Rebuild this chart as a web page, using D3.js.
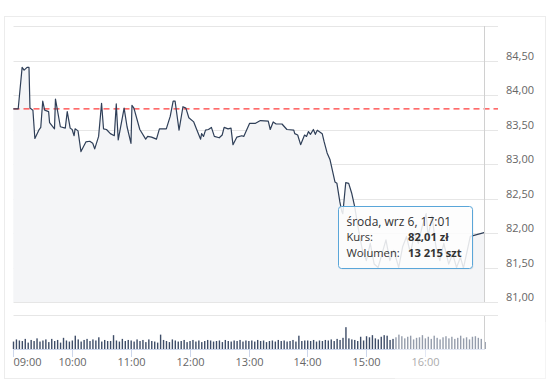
<!DOCTYPE html>
<html>
<head>
<meta charset="utf-8">
<script src="https://cdn.jsdelivr.net/npm/d3@7"></script>
<style>
  html, body { margin: 0; padding: 0; background: #fff; }
  svg { display: block; font-family: "Open Sans", sans-serif; }
</style>
</head>
<body>
<svg id="chart" width="550" height="384"></svg>
<script>
// price (kurs) - time of trade and price
const priceTimes = [
  "09:00","09:05","09:09","09:11","09:14","09:16","09:17","09:20","09:22","09:26",
  "09:28","09:30","09:32","09:36","09:37","09:42","09:43","09:48","09:53","09:55",
  "09:58","10:00","10:02","10:03","10:06","10:09","10:14","10:18","10:21","10:23",
  "10:27","10:30","10:32","10:35","10:39","10:43","10:45","10:47","10:53","10:56",
  "11:00","11:01","11:03","11:09","11:15","11:17","11:21","11:26","11:29","11:36",
  "11:40","11:43","11:45","11:49","11:53","11:56","11:59","12:04","12:07","12:11",
  "12:12","12:14","12:16","12:19","12:22","12:25","12:30","12:33","12:35","12:39",
  "12:42","12:44","12:48","12:53","12:55","13:01","13:07","13:12","13:20","13:22",
  "13:25","13:28","13:34","13:39","13:46","13:47","13:50","13:53","13:57","13:59",
  "14:01","14:03","14:06","14:08","14:10","14:15","14:17","14:20","14:23","14:28",
  "14:30","14:33","14:35","14:36","14:39","14:42","14:45","14:48","14:52","14:56",
  "15:00","15:04","15:08","15:12","15:16","15:20","15:24","15:28","15:33","15:37",
  "15:41","15:45","15:49","15:53","15:57","16:01","16:03","16:07","16:11","16:15",
  "16:19","16:24","16:28","16:32","16:36","16:39","16:46","17:01"
];
const priceValues = [
  83.80,83.80,84.40,84.36,84.40,84.40,83.81,83.78,83.37,83.49,
  83.53,83.91,83.78,83.76,83.60,83.51,83.94,83.54,83.52,83.76,
  83.52,83.50,83.41,83.51,83.48,83.18,83.32,83.33,83.30,83.22,
  83.40,83.88,83.51,83.50,83.44,83.41,83.87,83.35,83.81,83.54,
  83.30,83.85,83.81,83.50,83.36,83.40,83.39,83.36,83.51,83.51,
  83.69,83.91,83.91,83.49,83.83,83.81,83.67,83.61,83.50,83.36,
  83.44,83.40,83.49,83.50,83.53,83.40,83.38,83.42,83.53,83.51,
  83.52,83.28,83.39,83.41,83.40,83.59,83.59,83.63,83.62,83.50,
  83.61,83.58,83.58,83.50,83.49,83.44,83.42,83.28,83.42,83.40,
  83.47,83.43,83.50,83.43,83.49,83.44,83.32,83.16,83.06,82.74,
  82.72,82.45,82.31,82.28,82.73,82.72,82.58,82.39,82.05,81.75,
  81.60,81.85,81.55,81.50,81.70,81.90,81.60,81.75,81.50,81.80,
  81.95,81.70,82.00,81.85,82.10,82.28,81.95,82.25,81.80,81.60,
  81.85,81.55,81.70,81.50,81.65,81.49,81.95,82.01
];
const prevClose = 83.80;

// volume, thousands of shares, one bar every 3 minutes per hour
const vol09 = [14,18,16,15,19,12,17,15,20,14,16,18,13,19,15,17,12,21,16,14];
const vol10 = [16,25,18,14,17,19,15,18,16,22,14,17,15,15,26,16,14,19,15,17];
const vol11 = [16,14,18,15,17,13,18,15,14,12,27,17,15,13,18,16,14,15,17,13];
const vol12 = [15,17,14,16,13,15,17,16,14,15,16,13,17,15,14,16,15,17,14,16];
const vol13 = [15,16,14,17,15,16,13,15,16,14,17,15,16,14,15,17,14,25,15,16];
const vol14 = [16,15,17,14,16,15,17,16,18,15,19,17,21,41,20,18,17,15,23,16];
const vol15 = [24,22,26,20,18,23,26,25,17,19,22,27,24,20,23,25,18,21,22,26];
const vol16 = [20,23,19,25,21,18,22,24,20,23,19,21,25,20,22,18,23,24,21,19];
const volClose = 13.215;

const yTicks = [81, 81.5, 82, 82.5, 83, 83.5, 84, 84.5, 85];
const hourTicks = ["09:00","10:00","11:00","12:00","13:00","14:00","15:00","16:00"];
const tipDate = "środa, wrz 6, 17:01";
const tipRows = [["Kurs:", "82,01 zł"], ["Wolumen:", "13 215 szt"]];

const day = t => { const [h, m] = t.split(":").map(Number); return new Date(2017, 8, 6, h, m); };
const prices = priceTimes.map((t, i) => ({ date: day(t), value: priceValues[i] }));

const volumes = [];
[vol09, vol10, vol11, vol12, vol13, vol14, vol15, vol16].forEach((arr, h) => {
  arr.forEach((v, i) => volumes.push({ date: new Date(2017, 8, 6, 9 + h, i * 3), value: v * 1000 }));
});
volumes.push({ date: day("17:01"), value: volClose * 1000 });

const svg = d3.select("#chart");
const gridLeft = 13.5, gridRight = 498;

// outer panel
svg.append("rect")
  .attr("x", 4.5).attr("y", 16.5).attr("width", 541).attr("height", 362)
  .attr("fill", "#fff").attr("stroke", "#ececec");

const x = d3.scaleTime()
  .domain([day("09:00"), day("17:01")])
  .range([13.3, 485]);
const y = d3.scaleLinear().domain([81, 85]).range([302, 26]);
const yVol = d3.scaleLinear().domain([0, 62000]).range([349, 316]);

// price grid + labels
svg.append("g").selectAll("line")
  .data(yTicks).join("line")
  .attr("x1", gridLeft).attr("x2", gridRight)
  .attr("y1", d => Math.round(y(d)) + 0.5).attr("y2", d => Math.round(y(d)) + 0.5)
  .attr("stroke", "#e6e6e6");

svg.append("g").selectAll("text")
  .data(yTicks.filter(d => d < 85)).join("text")
  .attr("x", 506).attr("y", d => y(d) - 1)
  .attr("font-size", 11).attr("fill", "#666")
  .text(d => d3.format(".2f")(d).replace(".", ","));

// area + line
svg.append("path")
  .datum(prices)
  .attr("fill", "#f4f5f7")
  .attr("d", d3.area().x(d => x(d.date)).y0(y(81)).y1(d => y(d.value)));

svg.append("line")
  .attr("x1", gridLeft).attr("x2", gridRight)
  .attr("y1", y(prevClose)).attr("y2", y(prevClose))
  .attr("stroke", "#ff3b3b").attr("stroke-width", 1.2).attr("stroke-dasharray", "6,4");

svg.append("path")
  .datum(prices)
  .attr("fill", "none")
  .attr("stroke", "#2f3f58").attr("stroke-width", 1.2).attr("stroke-linejoin", "round")
  .attr("d", d3.line().x(d => x(d.date)).y(d => y(d.value)));

// volume pane
svg.append("line")
  .attr("x1", gridLeft).attr("x2", gridRight).attr("y1", 315.5).attr("y2", 315.5)
  .attr("stroke", "#e6e6e6");

svg.append("g").selectAll("rect")
  .data(volumes).join("rect")
  .attr("x", d => x(d.date) - 0.5)
  .attr("width", 1.4)
  .attr("y", d => yVol(d.value))
  .attr("height", d => yVol(0) - yVol(d.value))
  .attr("fill", "#3e4d68");

// x axis
svg.append("line")
  .attr("x1", gridLeft).attr("x2", 485).attr("y1", 349.5).attr("y2", 349.5)
  .attr("stroke", "#ccd6eb");

const xt = svg.append("g").selectAll("g")
  .data(hourTicks).join("g")
  .attr("transform", d => `translate(${Math.round(x(day(d))) + 0.5},0)`);
xt.append("line").attr("y1", 349).attr("y2", 357).attr("stroke", "#ccd6eb");
xt.append("text")
  .attr("y", 366)
  .attr("text-anchor", (d, i) => i === 0 ? "start" : "middle")
  .attr("font-size", 11).attr("fill", "#666")
  .text(d => d);

// washed-out bottom right corner of the screenshot
svg.append("rect")
  .attr("x", 395).attr("y", 322).attr("width", 155).attr("height", 62)
  .attr("fill", "#fff").attr("opacity", 0.45);

// crosshair
const cx = Math.round(x(day("17:01"))) - 0.5;
svg.append("line").attr("x1", cx).attr("x2", cx).attr("y1", 26).attr("y2", 302).attr("stroke", "#d0d0d0");
svg.append("line").attr("x1", cx).attr("x2", cx).attr("y1", 316).attr("y2", 349).attr("stroke", "#d0d0d0");

// tooltip
const tip = svg.append("g").attr("transform", "translate(338.5,206.5)");
tip.append("rect")
  .attr("x", 1).attr("y", 1).attr("width", 134).attr("height", 62).attr("rx", 3)
  .attr("fill", "rgba(0,0,0,0.06)");
tip.append("rect")
  .attr("width", 134).attr("height", 62).attr("rx", 3)
  .attr("fill", "rgba(255,255,255,0.86)").attr("stroke", "#5aa6d9");
tip.append("text")
  .attr("x", 8).attr("y", 19)
  .attr("font-size", 12).attr("fill", "#333")
  .text(tipDate);
const rows = tip.selectAll("g.row").data(tipRows).join("g").attr("class", "row")
  .attr("transform", (d, i) => `translate(0,${34.5 + i * 16})`);
rows.append("text").attr("x", 8).attr("font-size", 11.2).attr("fill", "#333").text(d => d[0]);
rows.append("text").attr("x", 69.5).attr("font-size", 11.2).attr("font-weight", "bold").attr("fill", "#333").text(d => d[1]);
</script>
</body>
</html>
